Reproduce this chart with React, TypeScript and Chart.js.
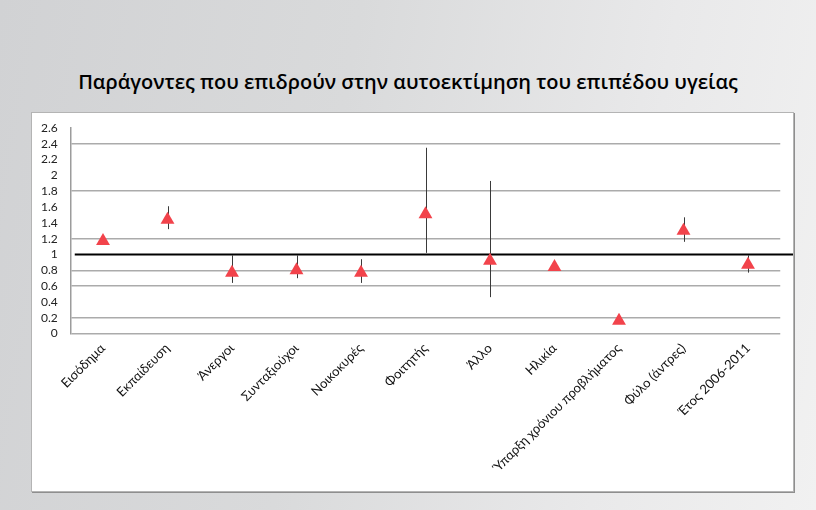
import React, { useEffect, useRef } from 'react';
import { Chart, registerables } from 'chart.js';

Chart.register(...registerables);

const titleText = 'Παράγοντες που επιδρούν στην αυτοεκτίμηση του επιπέδου υγείας';

const categories = [
  'Εισόδημα',
  'Εκπαίδευση',
  'Άνεργοι',
  'Συνταξιούχοι',
  'Νοικοκυρές',
  'Φοιτητής',
  'Άλλο',
  'Ηλικία',
  'Ύπαρξη χρόνιου προβλήματος',
  'Φύλο (άντρες)',
  'Έτος 2006-2011',
];

const oddsRatios = [1.17, 1.44, 0.77, 0.8, 0.77, 1.51, 0.92, 0.84, 0.16, 1.3, 0.87];
const lowerBounds: (number | null)[] = [null, 1.32, 0.64, 0.7, 0.64, 1.02, 0.46, null, null, 1.16, 0.77];
const upperBounds: (number | null)[] = [null, 1.61, 0.99, 0.99, 0.94, 2.35, 1.93, null, null, 1.47, 0.99];

const referenceValue = 1;
const yMin = 0;
const yMax = 2.6;
const yStep = 0.2;
const visibleGridValues = [0, 0.2, 0.6, 0.8, 1.2, 1.8, 2.4];

const errorBarPlugin = {
  id: 'errorBarsAndReference',
  beforeDatasetsDraw(chart: any) {
    const { ctx, chartArea } = chart;
    const x = chart.scales.x;
    const y = chart.scales.y;
    ctx.save();
    const py = y.getPixelForValue(referenceValue);
    ctx.strokeStyle = '#000000';
    ctx.lineWidth = 2;
    ctx.beginPath();
    ctx.moveTo(chartArea.left + 4, py);
    ctx.lineTo(chartArea.right + 13, py);
    ctx.stroke();
    ctx.strokeStyle = '#3a3a3a';
    ctx.lineWidth = 1;
    categories.forEach((_, i) => {
      const lo = lowerBounds[i];
      const hi = upperBounds[i];
      if (lo == null || hi == null) return;
      const px = Math.round(x.getPixelForValue(i)) + 0.5;
      ctx.beginPath();
      ctx.moveTo(px, y.getPixelForValue(hi));
      ctx.lineTo(px, y.getPixelForValue(lo));
      ctx.stroke();
    });
    ctx.restore();
  },
};

export default function App() {
  const canvasRef = useRef<HTMLCanvasElement | null>(null);

  useEffect(() => {
    document.body.style.margin = '0';
    const canvas = canvasRef.current;
    if (!canvas) return;
    const chart = new Chart(canvas, {
      type: 'line',
      data: {
        labels: categories,
        datasets: [
          {
            data: oddsRatios,
            showLine: false,
            pointStyle: 'triangle',
            pointRadius: 8,
            pointHoverRadius: 8,
            pointBackgroundColor: '#f2434b',
            pointBorderColor: '#f2434b',
            pointBorderWidth: 0,
          },
        ],
      },
      options: {
        responsive: false,
        animation: false,
        layout: { padding: { left: 0, right: 12.75, top: 15, bottom: 0 } },
        plugins: {
          legend: { display: false },
          tooltip: { enabled: false },
          title: { display: false },
        },
        scales: {
          x: {
            type: 'category',
            offset: true,
            grid: { display: false, drawTicks: false },
            border: { display: false },
            afterFit: (s: any) => {
              s.height = 157.5;
            },
            ticks: {
              autoSkip: false,
              minRotation: 45,
              maxRotation: 45,
              padding: 7,
              color: '#111111',
              font: { family: 'Lato', size: 13 },
            },
          },
          y: {
            min: yMin,
            max: yMax,
            afterFit: (s: any) => {
              s.width = 38.75;
            },
            grid: {
              drawTicks: true,
              tickLength: 10,
              tickColor: 'rgba(0,0,0,0)',
              lineWidth: 1.5,
              color: (c: any) => {
                const v = c.tick ? c.tick.value : NaN;
                return visibleGridValues.some((g) => Math.abs(g - v) < 1e-6) ? '#ababab' : 'rgba(0,0,0,0)';
              },
            },
            border: { display: true, color: '#9c9c9c', width: 1.5 },
            ticks: {
              autoSkip: false,
              stepSize: yStep,
              padding: 3,
              color: '#222222',
              font: { family: 'Lato', size: 12 },
              callback: (v: any) => String(Number(Number(v).toFixed(1))),
            },
          },
        },
      },
      plugins: [errorBarPlugin],
    });
    return () => chart.destroy();
  }, []);

  return (
    <div
      style={{
        position: 'fixed',
        left: 0,
        top: 0,
        width: 816,
        height: 510,
        background: 'linear-gradient(100deg, #d1d2d4 0%, #d9dadb 40%, #e9e9ea 75%, #f1f1f1 100%)',
        overflow: 'hidden',
      }}
    >
      <div
        style={{
          position: 'absolute',
          left: 0,
          top: 69,
          width: 816,
          textAlign: 'center',
          fontFamily: '"Open Sans", Lato, sans-serif',
          fontWeight: 600,
          fontSize: 20,
          lineHeight: '26px',
          color: '#000',
        }}
      >
        {titleText}
      </div>
      <div
        style={{
          position: 'absolute',
          left: 31,
          top: 112,
          width: 763,
          height: 380,
          boxSizing: 'border-box',
          background: '#ffffff',
          border: '1px solid #b4b4b4',
          boxShadow: '1px 1px 0 #8e8e8e',
        }}
      >
        <canvas ref={canvasRef} width={761} height={378} style={{ display: 'block' }} />
      </div>
    </div>
  );
}
